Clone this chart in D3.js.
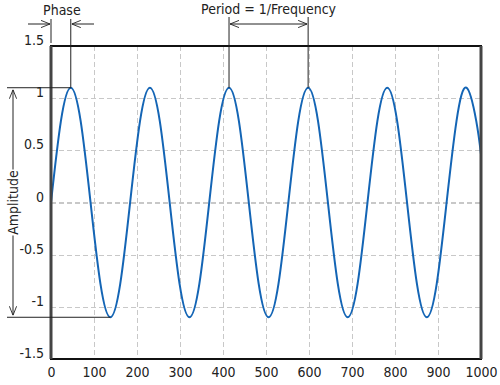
<!DOCTYPE html>
<html>
<head>
<meta charset="utf-8">
<script src="https://cdn.jsdelivr.net/npm/d3@7"></script>
<style>
  body { margin: 0; background: #fff; }
  text { font-family: "Liberation Sans Narrow", "DejaVu Sans Condensed", "Liberation Sans", sans-serif; fill: #222; }
</style>
</head>
<body>
<svg id="chart" width="500" height="385"></svg>
<script>
// wave samples (every 1/8 of a period, period ~184)
var waveX = [0, 23, 46, 69, 92, 115, 138, 161, 184, 207, 230, 253, 276, 299, 322, 345,
  368, 391, 414, 437, 460, 483, 506, 529, 552, 575, 598, 621, 644, 667, 690, 713,
  736, 759, 782, 805, 828, 851, 874, 897, 920, 943, 966, 989, 1000];
var waveY = [0, 0.78, 1.1, 0.78, 0, -0.78, -1.1, -0.78, 0, 0.78, 1.1, 0.78, 0, -0.78, -1.1, -0.78,
  0, 0.78, 1.1, 0.78, 0, -0.78, -1.1, -0.78, 0, 0.78, 1.1, 0.78, 0, -0.78, -1.1, -0.78,
  0, 0.78, 1.1, 0.78, 0, -0.78, -1.1, -0.78, 0, 0.78, 1.1, 0.78, 0.46];
var xTicks = [0, 100, 200, 300, 400, 500, 600, 700, 800, 900, 1000];
var yTicks = [-1.5, -1, -0.5, 0, 0.5, 1, 1.5];
// annotation anchors
var phasePeak = [46, 1.1];
var firstTrough = [138, -1.1];
var periodPeaks = [414, 598];

var margin = {top: 46, right: 19, bottom: 26, left: 51};
var svg = d3.select('#chart');
var width = 500 - margin.left - margin.right;
var height = 385 - margin.top - margin.bottom;
var g = svg.append('g').attr('transform', 'translate(' + margin.left + ',' + margin.top + ')');

var x = d3.scaleLinear().domain([0, 1000]).range([0, width]);
var y = d3.scaleLinear().domain([-1.5, 1.5]).range([height, 0]);

// gridlines
g.append('g').attr('class', 'grid')
  .call(d3.axisBottom(x).tickValues(xTicks).tickSize(height).tickFormat(''));
g.append('g').attr('class', 'grid')
  .call(d3.axisLeft(y).tickValues(yTicks).tickSize(-width).tickFormat(''));
g.selectAll('.grid path').remove();
g.selectAll('.grid line')
  .attr('stroke', '#c8c8c8')
  .attr('stroke-width', 1.2)
  .attr('stroke-dasharray', '5,3')
  .attr('shape-rendering', 'crispEdges');

// tick labels
var xa = g.append('g').attr('transform', 'translate(0,' + height + ')')
  .call(d3.axisBottom(x).tickValues(xTicks).tickSize(0).tickPadding(8).tickFormat(d3.format('d')));
var ya = g.append('g')
  .call(d3.axisLeft(y).tickValues(yTicks).tickSize(0).tickPadding(7).tickFormat(function(d) { return d; }));
xa.select('.domain').remove();
ya.select('.domain').remove();
xa.selectAll('text').style('font-size', '14px').attr('fill', '#222');
ya.selectAll('text').style('font-size', '14px').attr('fill', '#222').attr('dy', '-0.1em');

// wave
var pts = waveX.map(function(d, i) { return [d, waveY[i]]; });
var line = d3.line().x(function(d) { return x(d[0]); }).y(function(d) { return y(d[1]); })
  .curve(d3.curveNatural);
g.append('path').datum(pts)
  .attr('fill', 'none')
  .attr('stroke', '#1465b5')
  .attr('stroke-width', 2)
  .attr('d', line);

// frame
g.append('rect').attr('x', 0).attr('y', 0).attr('width', width).attr('height', height)
  .attr('fill', 'none').attr('stroke', '#111').attr('stroke-width', 2);
g.append('line').attr('x1', 0).attr('x2', 0).attr('y1', 0).attr('y2', height)
  .attr('stroke', '#444').attr('stroke-width', 3);
g.append('line').attr('x1', width).attr('x2', width).attr('y1', 0).attr('y2', height)
  .attr('stroke', '#444').attr('stroke-width', 3);

// arrow markers
var defs = svg.append('defs');
defs.append('marker').attr('id', 'arr')
  .attr('viewBox', '0 0 10 10').attr('refX', 10).attr('refY', 5)
  .attr('markerWidth', 9).attr('markerHeight', 9).attr('orient', 'auto-start-reverse')
  .attr('markerUnits', 'userSpaceOnUse')
  .append('path').attr('d', 'M0,1 L10,5 L0,9').attr('fill', 'none').attr('stroke', '#222').attr('stroke-width', 1);

var ann = svg.append('g').attr('stroke', '#222').attr('stroke-width', 1).attr('fill', 'none');
function px(v) { return margin.left + x(v); }
function py(v) { return margin.top + y(v); }

// phase
ann.append('line').attr('x1', px(0)).attr('x2', px(0)).attr('y1', 19).attr('y2', margin.top - 3);
ann.append('line').attr('x1', px(phasePeak[0])).attr('x2', px(phasePeak[0])).attr('y1', 19).attr('y2', py(phasePeak[1]));
ann.append('line').attr('x1', 28).attr('x2', px(0) - 1).attr('y1', 24).attr('y2', 24).attr('marker-end', 'url(#arr)');
ann.append('line').attr('x1', 94).attr('x2', px(phasePeak[0]) + 1).attr('y1', 24).attr('y2', 24).attr('marker-end', 'url(#arr)');
svg.append('text').attr('x', (px(0) + px(phasePeak[0])) / 2 + 1).attr('y', 15)
  .attr('text-anchor', 'middle').style('font-size', '14px').text('Phase');

// period
periodPeaks.forEach(function(p) {
  ann.append('line').attr('x1', px(p)).attr('x2', px(p)).attr('y1', 17).attr('y2', py(1.1));
});
ann.append('line').attr('x1', px(periodPeaks[0]) + 1).attr('x2', px(periodPeaks[1]) - 1)
  .attr('y1', 24).attr('y2', 24)
  .attr('marker-start', 'url(#arr)').attr('marker-end', 'url(#arr)');
svg.append('text').attr('x', (px(periodPeaks[0]) + px(periodPeaks[1])) / 2).attr('y', 14)
  .attr('text-anchor', 'middle').style('font-size', '14px').text('Period = 1/Frequency');

// amplitude
ann.append('line').attr('x1', 7).attr('x2', px(phasePeak[0])).attr('y1', py(phasePeak[1])).attr('y2', py(phasePeak[1]));
ann.append('line').attr('x1', 7).attr('x2', px(firstTrough[0])).attr('y1', py(firstTrough[1])).attr('y2', py(firstTrough[1]));
var midY = py(0);
ann.append('line').attr('x1', 13).attr('x2', 13).attr('y1', midY - 33).attr('y2', py(phasePeak[1]) + 2).attr('marker-end', 'url(#arr)');
ann.append('line').attr('x1', 13).attr('x2', 13).attr('y1', midY + 33).attr('y2', py(firstTrough[1]) - 2).attr('marker-end', 'url(#arr)');
svg.append('text').attr('transform', 'translate(18,' + midY + ') rotate(-90)')
  .attr('text-anchor', 'middle').style('font-size', '14px').text('Amplitude');
</script>
</body>
</html>
